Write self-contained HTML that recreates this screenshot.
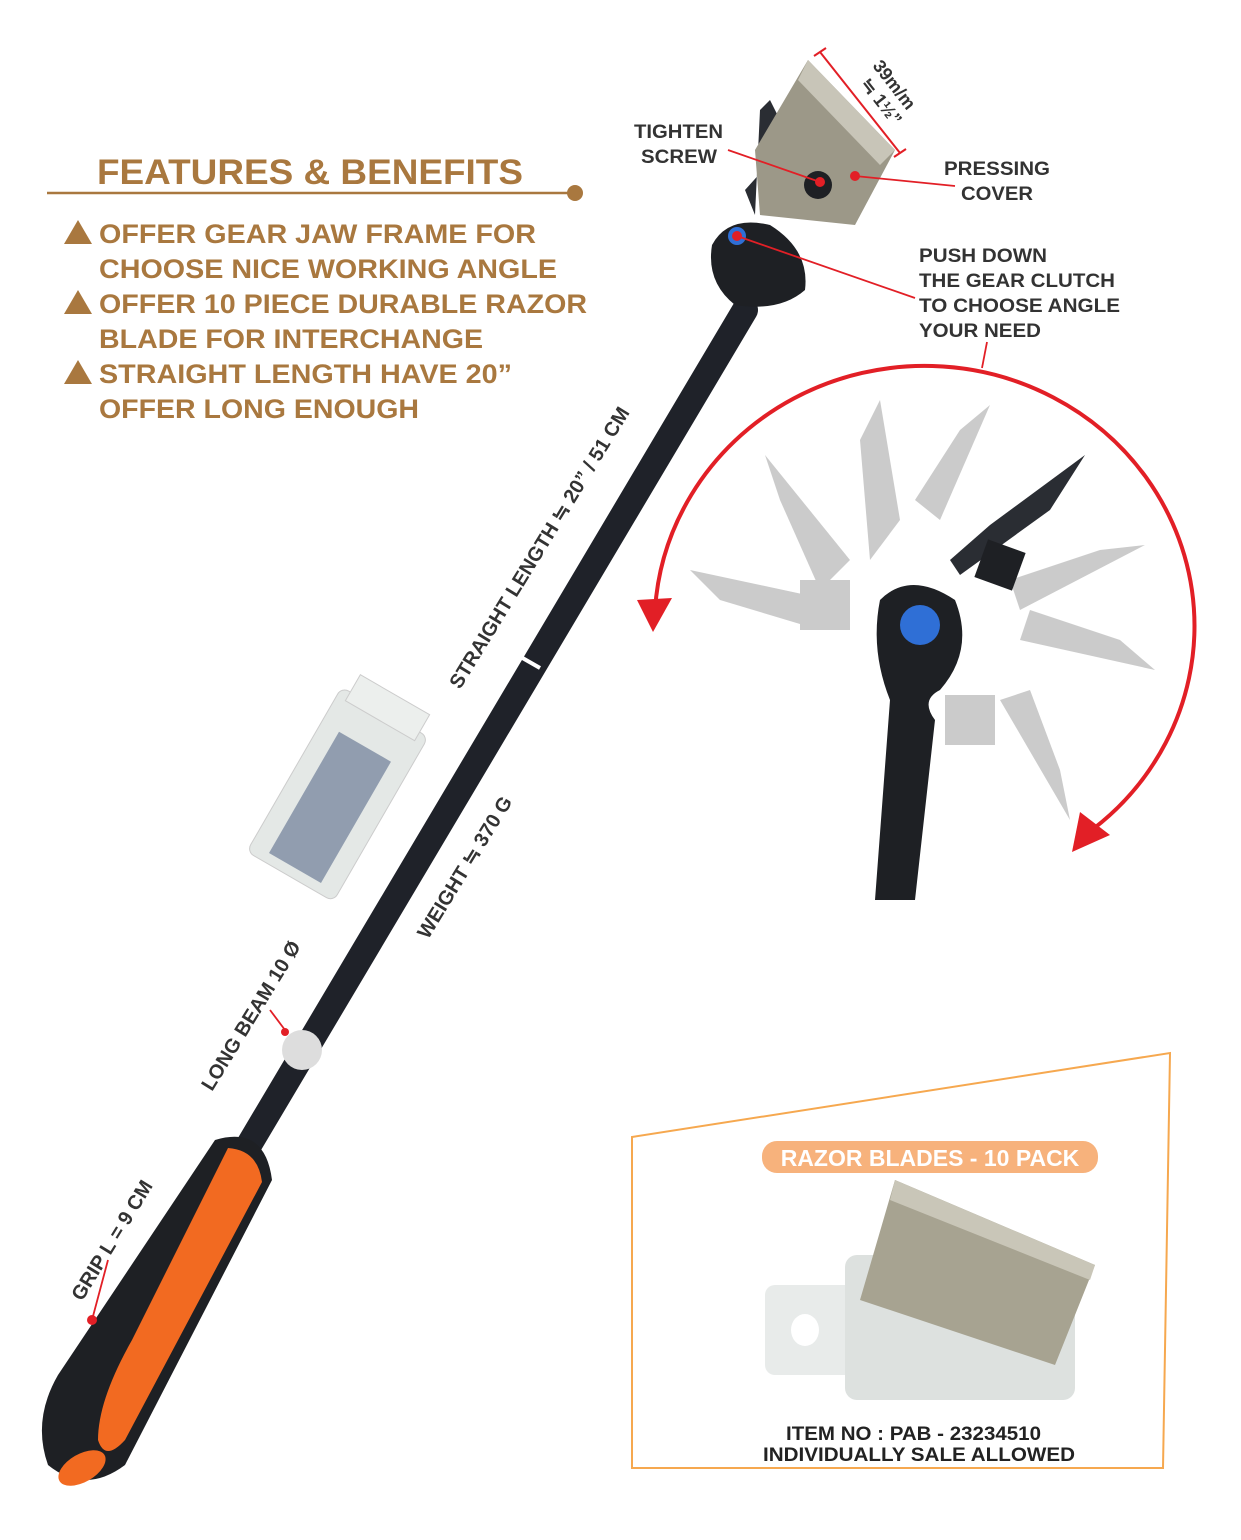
<!DOCTYPE html>
<html><head><meta charset="utf-8"><style>
html,body{margin:0;padding:0;background:#fff;}
svg{display:block;font-family:"Liberation Sans",Arial,sans-serif;font-weight:bold;}
</style></head><body>
<svg width="1241" height="1540" viewBox="0 0 1241 1540" xmlns="http://www.w3.org/2000/svg">
<!-- Features -->
<text x="97" y="184" font-size="35" fill="#a9783f" textLength="426" lengthAdjust="spacingAndGlyphs">FEATURES &amp; BENEFITS</text>
<line x1="47" y1="193" x2="573" y2="193" stroke="#a9783f" stroke-width="2.5"/>
<circle cx="575" cy="193" r="8" fill="#a9783f"/>
<g fill="#a9783f" font-size="27">
<polygon points="64,244 78,220 92,244"/>
<polygon points="64,314 78,290 92,314"/>
<polygon points="64,384 78,360 92,384"/>
<text x="99" y="243" textLength="437" lengthAdjust="spacingAndGlyphs">OFFER GEAR JAW FRAME FOR</text>
<text x="99" y="278" textLength="458" lengthAdjust="spacingAndGlyphs">CHOOSE NICE WORKING ANGLE</text>
<text x="99" y="313" textLength="488" lengthAdjust="spacingAndGlyphs">OFFER 10 PIECE DURABLE RAZOR</text>
<text x="99" y="348" textLength="384" lengthAdjust="spacingAndGlyphs">BLADE FOR INTERCHANGE</text>
<text x="99" y="383" textLength="413" lengthAdjust="spacingAndGlyphs">STRAIGHT LENGTH HAVE 20”</text>
<text x="99" y="418" textLength="320" lengthAdjust="spacingAndGlyphs">OFFER LONG ENOUGH</text>
</g>
<!-- rod -->
<line x1="240" y1="1160" x2="745" y2="310" stroke="#1f2229" stroke-width="26" stroke-linecap="round"/>
<line x1="512" y1="652" x2="540" y2="668" stroke="#fff" stroke-width="4"/>
<circle cx="302" cy="1050" r="20" fill="#ddd"/>
<!-- grip -->
<path d="M215,1140 Q265,1125 272,1180 L125,1465 Q85,1495 48,1465 Q32,1420 58,1375 Z" fill="#1e2024"/>
<path d="M228,1148 Q258,1150 262,1182 L125,1440 Q105,1462 98,1440 Q98,1400 132,1340 Z" fill="#f26a21"/>
<ellipse cx="82" cy="1468" rx="26" ry="14" fill="#f26a21" transform="rotate(-30 82 1468)"/>
<!-- head -->
<path d="M712,245 Q728,215 770,225 Q810,250 805,290 Q780,312 735,305 Q706,282 712,245Z" fill="#1e2024"/>
<circle cx="737" cy="236" r="9" fill="#2f6fd6"/>
<path d="M760,110 L770,100 L790,140 L745,190 L755,215 Z" fill="#2a2d33"/>
<polygon points="808,60 895,150 855,225 760,215 755,150" fill="#9c9888"/>
<polygon points="808,60 895,150 880,165 798,80" fill="#c8c5b8"/>
<circle cx="818" cy="185" r="14" fill="#1e2024"/>
<!-- dims -->
<line x1="820" y1="52" x2="900" y2="153" stroke="#e21f26" stroke-width="2"/>
<line x1="814" y1="56" x2="826" y2="48" stroke="#e21f26" stroke-width="2"/>
<line x1="894" y1="157" x2="906" y2="149" stroke="#e21f26" stroke-width="2"/>
<text transform="translate(872,66) rotate(52)" font-size="18" fill="#333">39m/m</text>
<text transform="translate(860,84) rotate(52)" font-size="18" fill="#333">≒ 1½”</text>
<!-- labels -->
<g font-size="19" fill="#333">
<text x="634" y="138" textLength="89" lengthAdjust="spacingAndGlyphs">TIGHTEN</text><text x="641" y="163" textLength="76" lengthAdjust="spacingAndGlyphs">SCREW</text>
<text x="944" y="175" textLength="106" lengthAdjust="spacingAndGlyphs">PRESSING</text><text x="961" y="200" textLength="72" lengthAdjust="spacingAndGlyphs">COVER</text>
<text x="919" y="262" textLength="128" lengthAdjust="spacingAndGlyphs">PUSH DOWN</text><text x="919" y="287" textLength="196" lengthAdjust="spacingAndGlyphs">THE GEAR CLUTCH</text>
<text x="919" y="312" textLength="201" lengthAdjust="spacingAndGlyphs">TO CHOOSE ANGLE</text><text x="919" y="337" textLength="122" lengthAdjust="spacingAndGlyphs">YOUR NEED</text>
</g>
<g stroke="#e21f26" stroke-width="1.8" fill="none">
<polyline points="728,150 820,182"/>
<polyline points="855,176 955,186"/>
<polyline points="737,236 915,298"/>
<polyline points="987,342 982,368"/>
<polyline points="285,1030 270,1010"/>
<polyline points="92,1320 108,1260"/>
</g>
<g fill="#e21f26"><circle cx="820" cy="182" r="5"/><circle cx="855" cy="176" r="5"/><circle cx="737" cy="236" r="5"/><circle cx="285" cy="1032" r="4"/><circle cx="92" cy="1320" r="5"/></g>
<!-- rotated rod labels -->
<g font-size="20" fill="#333">
<text transform="translate(460,690) rotate(-58.5)">STRAIGHT LENGTH ≒ 20” / 51 CM</text>
<text transform="translate(428,940) rotate(-58.5)">WEIGHT ≒ 370 G</text>
<text transform="translate(212,1092) rotate(-58.5)">LONG BEAM 10 Ø</text>
<text transform="translate(82,1302) rotate(-58.5)">GRIP L = 9 CM</text>
</g>
<!-- blade pack -->
<g transform="rotate(30 340 790)">
<rect x="290" y="700" width="100" height="190" rx="8" fill="#e4e8e6" stroke="#ccc"/>
<rect x="310" y="740" width="60" height="140" fill="#5a6a8a" opacity="0.6"/>
<rect x="300" y="680" width="80" height="30" fill="#ecefed" stroke="#ccc"/>
</g>
<!-- angle diagram -->
<path d="M655,610 A270,260 0 1 1 1085,835" fill="none" stroke="#e21f26" stroke-width="4"/>
<polygon points="637,600 672,598 653,632" fill="#e21f26"/>
<polygon points="1072,852 1110,835 1080,812" fill="#e21f26"/>
<g fill="#a9a9a9" opacity="0.6">
<polygon points="880,400 900,520 870,560 860,440"/>
<polygon points="990,405 940,520 915,500 960,430"/>
<polygon points="765,455 850,560 820,590 780,500"/>
<polygon points="690,570 830,600 820,630 720,600"/>
<polygon points="1145,545 1020,610 1010,580 1100,550"/>
<polygon points="1155,670 1020,640 1030,610 1120,640"/>
<polygon points="1070,820 1000,700 1030,690 1060,770"/>
<rect x="945" y="695" width="50" height="50"/>
<rect x="800" y="580" width="50" height="50"/>
</g>
<polygon points="1085,455 990,525 950,560 960,575 1050,510" fill="#2a2d33"/>
<rect x="980" y="545" width="40" height="40" fill="#1e2024" transform="rotate(20 1000 565)"/>
<path d="M880,600 Q910,570 955,600 Q975,650 940,690 Q920,700 935,720 L915,900 L875,900 L890,700 Q870,650 880,600Z" fill="#1e2024"/>
<circle cx="920" cy="625" r="20" fill="#2f6fd6"/>
<!-- box -->
<polygon points="632,1137 1170,1053 1163,1468 632,1468" fill="none" stroke="#f6a84f" stroke-width="2"/>
<rect x="762" y="1141" width="336" height="32" rx="15" fill="#f7b27c"/>
<text x="930" y="1166" font-size="23" fill="#fff" text-anchor="middle">RAZOR BLADES - 10 PACK</text>
<rect x="765" y="1285" width="120" height="90" rx="10" fill="#e8ebea"/>
<ellipse cx="805" cy="1330" rx="14" ry="16" fill="#fff"/>
<rect x="845" y="1255" width="230" height="145" rx="12" fill="#dde1df"/>
<polygon points="895,1180 1095,1265 1055,1365 860,1300" fill="#a7a391"/>
<polygon points="895,1180 1095,1265 1090,1280 890,1200" fill="#c9c6b8"/>
<text x="786" y="1440" font-size="19" fill="#222" textLength="255" lengthAdjust="spacingAndGlyphs">ITEM NO : PAB - 23234510</text>
<text x="763" y="1461" font-size="19" fill="#222" textLength="312" lengthAdjust="spacingAndGlyphs">INDIVIDUALLY SALE ALLOWED</text>
</svg>
</body></html>
